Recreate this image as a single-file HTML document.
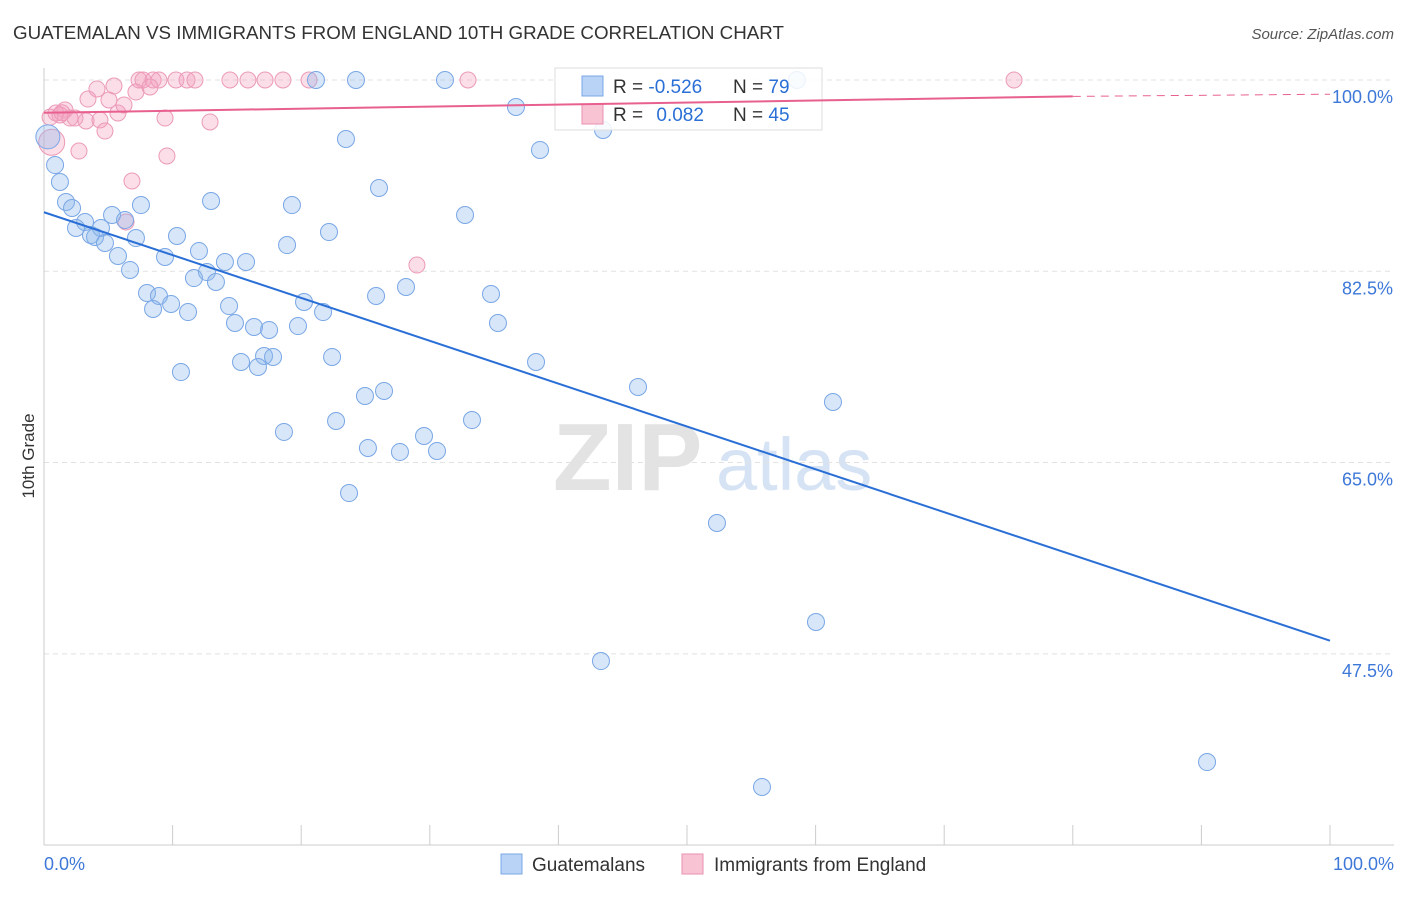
<!DOCTYPE html>
<html><head><meta charset="utf-8"><style>
body{margin:0;background:#fff;font-family:"Liberation Sans",sans-serif;}
svg text{font-family:"Liberation Sans",sans-serif;}
</style></head><body>
<svg id="chart" width="1406" height="892" viewBox="0 0 1406 892" xmlns="http://www.w3.org/2000/svg">
<text x="13" y="39" font-size="18.75" fill="#333">GUATEMALAN VS IMMIGRANTS FROM ENGLAND 10TH GRADE CORRELATION CHART</text>
<text x="1394" y="39" font-size="15" fill="#555" text-anchor="end" font-style="italic">Source: ZipAtlas.com</text>
<g>
<text x="553" y="490" font-size="96" fill="#e3e3e3" font-family="Liberation Serif" font-weight="bold">ZIP</text>
<text x="716" y="490" font-size="74" fill="#d6e3f4">atlas</text>
</g>
<g id="grid"></g>
<g id="axes"></g>
<g id="pts"></g>
<g>
<rect x="555" y="68" width="267" height="62" fill="#fff" fill-opacity="0.85" stroke="#ddd"/>
<rect x="582" y="76" width="21" height="20" fill="#b8d3f5" stroke="#7aa7e6"/>
<text x="613" y="93" font-size="19" fill="#333">R = <tspan fill="#2a6fd6">-0.526</tspan></text>
<text x="733" y="93" font-size="19" fill="#333">N = <tspan fill="#2a6fd6">79</tspan></text>
<rect x="582" y="104" width="21" height="20" fill="#f8c4d4" stroke="#e890b0"/>
<text x="613" y="121" font-size="19" fill="#333">R = <tspan fill="#2a6fd6" dx="8">0.082</tspan></text>
<text x="733" y="121" font-size="19" fill="#333">N = <tspan fill="#2a6fd6">45</tspan></text>
</g>
<g id="trend"></g>
<text transform="translate(34,456) rotate(-90)" font-size="17" fill="#333" text-anchor="middle">10th Grade</text>
<g>
<rect x="501" y="854" width="21" height="20" fill="#b8d3f5" stroke="#7aa7e6"/>
<text x="532" y="871" font-size="19" fill="#333">Guatemalans</text>
<rect x="682" y="854" width="21" height="20" fill="#f8c4d4" stroke="#e890b0"/>
<text x="714" y="871" font-size="19" fill="#333">Immigrants from England</text>
</g>
</svg>
<script>
const blueX=[21.15,24.26,31.18,58.55,36.70,43.47,23.48,38.57,0.86,1.24,26.05,1.71,2.18,7.54,12.99,19.28,32.74,3.19,5.29,6.30,2.49,4.43,3.65,3.97,7.15,10.34,22.16,4.74,18.90,12.05,5.75,9.41,14.07,15.71,6.69,12.67,11.66,13.37,28.15,8.01,8.94,25.82,34.76,9.88,20.22,14.39,8.48,11.20,21.70,14.85,35.30,16.33,17.50,19.75,17.11,17.81,22.40,15.32,16.64,38.26,10.65,46.19,26.44,24.96,61.35,22.71,33.28,18.66,29.55,25.19,27.68,30.56,23.72,52.33,60.03,43.31,90.44,55.83,0.3];
const blueY=[100,100,100,100,97.53,95.43,94.60,93.60,92.22,90.67,90.12,88.84,88.29,88.56,88.93,88.56,87.65,87.01,87.65,87.19,86.46,86.46,85.82,85.64,85.54,85.73,86.09,85.09,84.90,84.35,83.90,83.81,83.35,83.35,82.62,82.43,81.88,81.52,81.06,80.51,80.24,80.24,80.42,79.51,79.69,79.32,79.05,78.77,78.77,77.77,77.77,77.40,77.13,77.49,74.75,74.66,74.66,74.20,73.74,74.20,73.28,71.91,71.55,71.09,70.54,68.80,68.89,67.80,67.43,66.33,65.97,66.06,62.21,59.47,50.41,46.84,37.60,35.32,94.8];
const pinkX=[7.39,7.70,8.48,8.94,10.26,11.12,11.74,14.46,15.86,17.19,18.58,20.61,32.97,75.43,5.44,4.12,8.24,7.15,3.42,5.05,0.93,1.63,2.41,2.02,3.27,4.35,5.75,6.22,9.41,12.91,4.74,2.72,9.56,6.84,29.00,6.38,0.6,1.24,0.47,1.4];
const pinkY=[100,100,100,100,100,100,100,100,100,100,100,100,100,100,99.45,99.18,99.36,98.90,98.26,98.17,96.98,97.26,96.52,96.52,96.25,96.34,96.98,97.71,96.52,96.16,95.33,93.50,93.05,90.76,83.07,87.01,94.3,96.8,96.6,97.0];
const yTicks=[100,82.5,65,47.5];
const yTickLabels=["100.0%","82.5%","65.0%","47.5%"];
const blueTrend=[87.9,48.7];
const pinkTrend=[97.0,98.5,98.7];
const NS="http://www.w3.org/2000/svg";
const X=v=>44+v*12.86, Y=v=>80+(100-v)*10.93;
function mk(t,a,p){const e=document.createElementNS(NS,t);for(const k in a)e.setAttribute(k,a[k]);p.appendChild(e);return e;}
const grid=document.getElementById('grid'),axes=document.getElementById('axes');
yTicks.forEach((t,i)=>{
 const l=mk('line',{x1:44,x2:1394,y1:Y(t),y2:Y(t),stroke:'#e2e2e2','stroke-dasharray':'5,4'},grid);
 
 
 const tx=mk('text',{x:1393,y:Y(t)+23,'font-size':18,fill:'#3d78d8','text-anchor':'end'},axes);
 tx.textContent=yTickLabels[i];
 
 
});
mk('line',{x1:44,x2:44,y1:68,y2:845,stroke:'#ccc'},axes);
mk('line',{x1:44,x2:1394,y1:845,y2:845,stroke:'#ccc'},axes);
for(let i=0;i<=10;i++){const t=mk('line',{x1:X(i*10),x2:X(i*10),y1:825,y2:845,stroke:'#ccc'},axes);
 
 }
const x0=mk('text',{x:44,y:870,'font-size':18,fill:'#3d78d8'},axes);x0.textContent='0.0%';


const x1=mk('text',{x:1394,y:870,'font-size':18,fill:'#3d78d8','text-anchor':'end'},axes);x1.textContent='100.0%';


const pts=document.getElementById('pts');
pinkX.forEach((v,i)=>{const c=mk('circle',{cx:X(v),cy:Y(pinkY[i]),r:i==36?13:8,fill:'rgba(243,160,190,0.35)',stroke:'#ec9ab7','stroke-width':1},pts);
 
 });
blueX.forEach((v,i)=>{const c=mk('circle',{cx:X(v),cy:Y(blueY[i]),r:i==78?12:8.5,fill:'rgba(140,182,236,0.35)',stroke:'#7aa7e6','stroke-width':1},pts);
 
 });
const tr=document.getElementById('trend');
let l=mk('line',{x1:X(0),y1:Y(blueTrend[0]),x2:X(100),y2:Y(blueTrend[1]),stroke:'#2a6fd6','stroke-width':2},tr);


l=mk('line',{x1:X(0),y1:Y(pinkTrend[0]),x2:X(80),y2:Y(pinkTrend[1]),stroke:'#e8608f','stroke-width':2},tr);


l=mk('line',{x1:X(80),y1:Y(pinkTrend[1]),x2:X(100),y2:Y(pinkTrend[2]),stroke:'#e8608f','stroke-width':1,'stroke-dasharray':'8,6'},tr);


</script>
</body></html>
